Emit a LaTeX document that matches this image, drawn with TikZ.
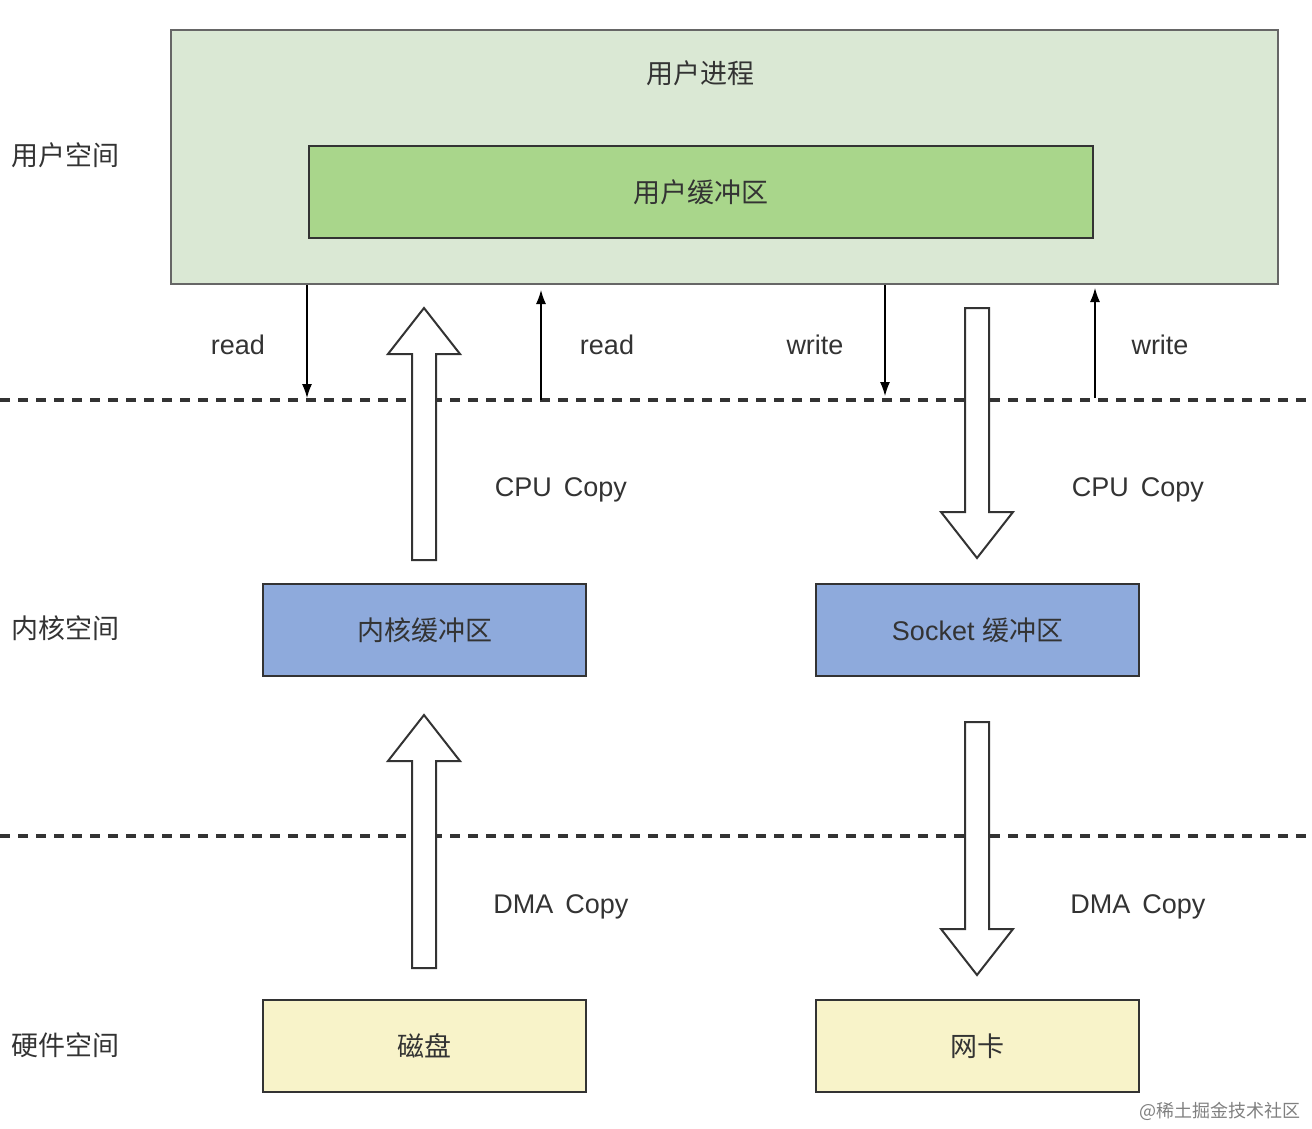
\documentclass[tikz,border=0pt]{standalone}
\usepackage{fontspec}
\setmainfont{Liberation Sans}
\newfontfamily\cjk{Noto Sans CJK SC}
\usetikzlibrary{arrows.meta,calc}
\definecolor{procgreen}{HTML}{DAE8D4}
\definecolor{bufgreen}{HTML}{A9D68B}
\definecolor{kernblue}{HTML}{8EAADC}
\definecolor{hwyellow}{HTML}{F8F3C9}
\definecolor{txtgray}{HTML}{333333}
\newcommand{\bigup}[3]{\draw [hollow] (#1-12,#2)--(#1-12,#3+46)--(#1-36,#3+46)--(#1,#3)--(#1+36,#3+46)--(#1+12,#3+46)--(#1+12,#2)--cycle;}
\newcommand{\bigdown}[3]{\draw [hollow] (#1-12,#2)--(#1-12,#3-46)--(#1-36,#3-46)--(#1,#3)--(#1+36,#3-46)--(#1+12,#3-46)--(#1+12,#2)--cycle;}
\begin{document}
\begin{tikzpicture}[x=0.5pt,y=-0.5pt,
  every node/.style={text=txtgray,font=\fontsize{13.5}{16}\selectfont},
  box/.style={draw=txtgray,line width=1pt,minimum width=161.5pt,minimum height=46pt},
  hollow/.style={draw=txtgray,line width=1pt,fill=white,line join=miter},
  thin/.style={-{Latex[length=7pt,width=5pt]},line width=0.6pt,black},
  sep/.style={draw=txtgray,line width=1.6pt,dash pattern=on 5pt off 4pt}]
\useasboundingbox (0,0) rectangle (1312,1129);
% user space
\node [draw=gray!80!black,line width=1pt,fill=procgreen,minimum width=553.5pt,minimum height=127pt] (proc) at (724.5,157) {};
\node (proctitle) at (700,73) {\cjk 用户进程};
\node [draw=txtgray,line width=1pt,fill=bufgreen,minimum width=392pt,minimum height=46pt] (ubuf) at (701,192) {\cjk 用户缓冲区};
% separators
\draw [sep] (0,400)--(1312,400);
\draw [sep] (0,836)--(1312,836);
% layer names
\node (userspace) at (65,155) {\cjk 用户空间};
\node (kernspace) at (65,628) {\cjk 内核空间};
\node (hwspace) at (65,1045) {\cjk 硬件空间};
% kernel and hardware boxes
\node [box,fill=kernblue] (kbuf) at (424.5,630) {\cjk 内核缓冲区};
\node [box,fill=kernblue] (sbuf) at (977.5,630) {Socket {\cjk 缓冲区}};
\node [box,fill=hwyellow] (disk) at (424.5,1046) {\cjk 磁盘};
\node [box,fill=hwyellow] (nic) at (977.5,1046) {\cjk 网卡};
% system calls
\coordinate (rd1) at (307,398);
\coordinate (rd2) at (541,400);
\coordinate (wr1) at (885,396);
\coordinate (wr2) at (1095,398);
\draw [thin] (rd1 |- proc.south)--(rd1);
\draw [thin] (rd2)--($(rd2 |- proc.south)+(0,5)$);
\draw [thin] (wr1 |- proc.south)--(wr1);
\draw [thin] (wr2)--($(wr2 |- proc.south)+(0,3)$);
\node at (238,345) {read};
\node at (607,345) {read};
\node at (815,345) {write};
\node at (1160,345) {write};
% copies
\bigup{424}{560}{308}
\bigdown{977}{308}{558}
\bigup{424}{968}{715}
\bigdown{977}{722}{975}
\node at (561,490) {CPU\, Copy};
\node at (1138,490) {CPU\, Copy};
\node at (561,907) {DMA\, Copy};
\node at (1138,907) {DMA\, Copy};
\node [text=gray,font=\fontsize{9}{10}\selectfont\cjk,anchor=east] (mark) at (1308,1111) {@稀土掘金技术社区};
\end{tikzpicture}
\end{document}
